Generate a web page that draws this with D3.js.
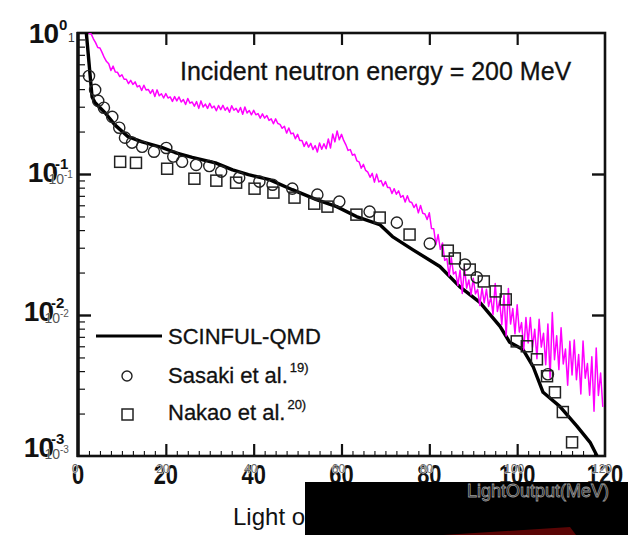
<!DOCTYPE html>
<html>
<head>
<meta charset="utf-8">
<script src="https://cdn.jsdelivr.net/npm/d3@7"></script>
<style>
body { margin: 0; background: #fff; }
svg text { font-family: "Liberation Sans", Arial, Helvetica, sans-serif; }
</style>
</head>
<body>
<div id="chart"></div>
<script>
// --- Data (light output in MeV, response per MeV) ---
const scinfulX = [1.9, 3.2, 3.9, 6.2, 8.4, 11.4, 14.6, 19.2, 22.1, 26.0, 31.3, 35.2, 38.8, 43.6, 48.8, 54.3, 58.9, 63.4, 68.7, 71.6, 76.2, 82.4, 86.9, 91.5, 96.1, 98.3, 101.3, 103.6, 105.9, 109.7, 113.6, 116.6, 118.2];
const scinfulY = [1.0, 0.352, 0.320, 0.271, 0.223, 0.184, 0.169, 0.154, 0.142, 0.131, 0.120, 0.107, 0.0989, 0.0912, 0.0774, 0.0658, 0.0587, 0.0499, 0.0438, 0.036, 0.0291, 0.0221, 0.0159, 0.0123, 0.0083, 0.0064, 0.0057, 0.00433, 0.00283, 0.00225, 0.00163, 0.00125, 0.001];

const sasakiX = [2.5, 3.9, 4.6, 5.9, 7.8, 9.4, 10.7, 12.3, 14.6, 17.3, 20.1, 21.7, 23.7, 26.9, 29.9, 32.6, 36.7, 41.3, 44.3, 48.8, 54.5, 59.5, 66.4, 72.6, 80.1, 88.1, 90.8, 107.0];
const sasakiY = [0.496, 0.395, 0.330, 0.295, 0.254, 0.213, 0.181, 0.167, 0.156, 0.144, 0.153, 0.133, 0.122, 0.116, 0.114, 0.104, 0.0942, 0.0883, 0.0840, 0.0787, 0.0714, 0.0637, 0.0541, 0.0452, 0.0321, 0.0228, 0.0185, 0.0038];

const nakaoX = [9.6, 13.2, 20.3, 26.5, 31.5, 36.0, 40.2, 44.5, 49.3, 53.8, 56.8, 63.4, 68.7, 75.5, 84.2, 85.8, 89.2, 92.4, 95.1, 97.4, 99.9, 102.2, 104.5, 106.8, 108.6, 110.4, 112.5];
const nakaoY = [0.122, 0.120, 0.109, 0.0926, 0.0897, 0.0868, 0.0787, 0.0738, 0.0680, 0.0616, 0.0587, 0.0515, 0.0491, 0.0372, 0.0286, 0.0252, 0.0210, 0.0173, 0.0147, 0.0129, 0.0065, 0.0060, 0.00485, 0.00368, 0.00283, 0.00205, 0.00125];

// measured spectrum (magenta), 1 MeV bins from 3 to 119: upper and lower excursions of the noise
const magStart = 3;
const magHi = [
  0.986, 0.855, 0.783, 0.668, 0.605, 0.582, 0.526, 0.506, 0.470, 0.462,
  0.450, 0.424, 0.426, 0.398, 0.396, 0.395, 0.371, 0.372, 0.352, 0.354,
  0.352, 0.337, 0.343, 0.324, 0.326, 0.330, 0.313, 0.317, 0.303, 0.306,
  0.307, 0.297, 0.305, 0.292, 0.296, 0.299, 0.282, 0.283, 0.268, 0.267,
  0.260, 0.246, 0.246, 0.225, 0.218, 0.212, 0.195, 0.191, 0.173, 0.169,
  0.165, 0.159, 0.166, 0.164, 0.177, 0.192, 0.202, 0.191, 0.161, 0.149,
  0.138, 0.122, 0.117, 0.103, 0.101, 0.0998, 0.0899, 0.0883, 0.0802, 0.0787,
  0.0760, 0.0703, 0.0701, 0.0628, 0.0611, 0.0598, 0.0520, 0.0531, 0.0409, 0.0372,
  0.0324, 0.0251, 0.0255, 0.0203, 0.0208, 0.0217, 0.0177, 0.0182, 0.0152, 0.0156,
  0.0152, 0.0134, 0.0167, 0.0126, 0.0138, 0.0154, 0.0111, 0.0118, 0.00883, 0.00959,
  0.00959, 0.00793, 0.00933, 0.00743, 0.00865, 0.0104, 0.00713, 0.00811, 0.00573, 0.00652,
  0.00664, 0.00524, 0.00653, 0.00453, 0.00505, 0.00583, 0.00388
];
const magLo = [
  0.910, 0.789, 0.726, 0.627, 0.542, 0.528, 0.491, 0.470, 0.437, 0.432,
  0.415, 0.391, 0.394, 0.373, 0.355, 0.359, 0.346, 0.346, 0.327, 0.330,
  0.324, 0.311, 0.318, 0.303, 0.292, 0.299, 0.292, 0.294, 0.281, 0.286,
  0.283, 0.274, 0.283, 0.274, 0.265, 0.271, 0.263, 0.263, 0.249, 0.249,
  0.240, 0.227, 0.228, 0.211, 0.195, 0.193, 0.178, 0.173, 0.157, 0.155,
  0.149, 0.143, 0.150, 0.151, 0.153, 0.169, 0.175, 0.173, 0.147, 0.136,
  0.124, 0.110, 0.106, 0.0948, 0.0875, 0.0879, 0.0822, 0.0802, 0.0728, 0.0719,
  0.0684, 0.0632, 0.0635, 0.0578, 0.0530, 0.0527, 0.0475, 0.0410, 0.0316, 0.0292,
  0.0244, 0.0189, 0.0195, 0.0162, 0.0142, 0.0155, 0.0139, 0.0141, 0.0117, 0.0122,
  0.0115, 0.0101, 0.0106, 0.00855, 0.00711, 0.00863, 0.00735, 0.00757, 0.00568, 0.00634,
  0.00592, 0.00489, 0.00592, 0.00444, 0.00357, 0.00482, 0.00410, 0.00450, 0.00318, 0.00375,
  0.00348, 0.00275, 0.00356, 0.00270, 0.00208, 0.00269, 0.00223
];

// tick labels
const xTickValues = [0, 20, 40, 60, 80, 100, 120];
const yTickValues = [1, 0.1, 0.01, 0.001];
const yTickExp = ["0", "-1", "-2", "-3"];

(function(){
const W = 628, H = 535;
const left = 78, right = 605, top = 33, bottom = 456;

const svg = d3.select("#chart").append("svg")
    .attr("width", W)
    .attr("height", H);

svg.append("rect").attr("width", W).attr("height", H).attr("fill", "#fff");

// --- Scales ---
const x = d3.scaleLinear().domain([0, 120]).range([left, right]);
const y = d3.scaleLog().domain([1e-3, 1]).range([bottom, top]);

svg.append("defs").append("clipPath").attr("id", "plotclip")
    .append("rect")
    .attr("x", left).attr("y", top)
    .attr("width", right - left).attr("height", bottom - top);

// --- Inward ticks ---
const xMajor = xTickValues.filter(v => v > 0 && v < 120);
const xMinor = d3.range(2.5, 120, 2.5).filter(v => v % 20 !== 0);
const yMajor = yTickValues.filter(v => v < 1 && v > 1e-3);
const yMinor = [];
[1e-3, 1e-2, 1e-1].forEach(d => { for (let k = 2; k <= 9; k++) yMinor.push(k * d); });

function tickAxis(axis, at, size, width) {
    svg.append("g")
        .attr("transform", at)
        .call(axis.tickSize(size).tickFormat(""))
        .call(g => g.select(".domain").remove())
        .call(g => g.selectAll("line").attr("stroke", "#111").attr("stroke-width", width));
}
tickAxis(d3.axisBottom(x).tickValues(xMajor), `translate(0,${bottom})`, -12, 2.2);
tickAxis(d3.axisBottom(x).tickValues(xMinor), `translate(0,${bottom})`, -5, 1.1);
tickAxis(d3.axisTop(x).tickValues(xMajor), `translate(0,${top})`, -12, 2.2);
tickAxis(d3.axisLeft(y).tickValues(yMajor), `translate(${left},0)`, -13, 2.4);
tickAxis(d3.axisLeft(y).tickValues(yMinor), `translate(${left},0)`, -7, 1.2);
tickAxis(d3.axisRight(y).tickValues(yMajor), `translate(${right},0)`, -13, 2.4);

// --- Frame ---
svg.append("rect")
    .attr("x", left).attr("y", top)
    .attr("width", right - left).attr("height", bottom - top)
    .attr("fill", "none").attr("stroke", "#111").attr("stroke-width", 2.6);
svg.append("line")
    .attr("x1", left).attr("x2", left).attr("y1", top - 1).attr("y2", bottom + 1)
    .attr("stroke", "#111").attr("stroke-width", 3.4);

const plot = svg.append("g").attr("clip-path", "url(#plotclip)");

// --- SCINFUL-QMD line ---
const scinful = scinfulX.map((v, i) => [v, scinfulY[i]]);
plot.append("path")
    .datum(scinful)
    .attr("fill", "none")
    .attr("stroke", "#000")
    .attr("stroke-width", 3.4)
    .attr("stroke-linejoin", "round")
    .attr("d", d3.line().x(d => x(d[0])).y(d => y(d[1])));

// --- measured spectrum, noisy magenta trace ---
const magPts = [];
magHi.forEach((v, i) => {
    magPts.push([magStart + i, v]);
    magPts.push([magStart + i + 0.5, magLo[i]]);
});
plot.append("path")
    .datum([[2.4, 1.0]].concat(magPts))
    .attr("fill", "none")
    .attr("stroke", "#ff00ff")
    .attr("stroke-width", 1.5)
    .attr("stroke-linejoin", "round")
    .attr("d", d3.line().x(d => x(d[0])).y(d => y(d[1])));

// --- Sasaki circles ---
plot.selectAll(".sasaki")
    .data(sasakiX.map((v, i) => [v, sasakiY[i]]))
    .join("circle")
    .attr("class", "sasaki")
    .attr("cx", d => x(d[0]))
    .attr("cy", d => y(d[1]))
    .attr("r", 5.6)
    .attr("fill", "none")
    .attr("stroke", "#222")
    .attr("stroke-width", 1.4);

// --- Nakao squares ---
const sq = 11;
plot.selectAll(".nakao")
    .data(nakaoX.map((v, i) => [v, nakaoY[i]]))
    .join("rect")
    .attr("class", "nakao")
    .attr("x", d => x(d[0]) - sq / 2)
    .attr("y", d => y(d[1]) - sq / 2)
    .attr("width", sq).attr("height", sq)
    .attr("fill", "none")
    .attr("stroke", "#222")
    .attr("stroke-width", 1.5);

// --- Y tick labels (big bold + faint overprint) ---
const yEnd = [58, 57, 53, 53];
const yOff = [10, 8, 6, 1];
yTickValues.forEach((v, i) => {
    const by = y(v) + yOff[i];
    svg.append("text")
        .attr("x", yEnd[i]).attr("y", by)
        .attr("text-anchor", "end")
        .attr("font-size", 28).attr("font-weight", "bold")
        .attr("letter-spacing", -1)
        .attr("fill", "#111")
        .text("10");
    svg.append("text")
        .attr("x", i === 0 ? yEnd[i] + 1 : yEnd[i] - 2).attr("y", by - 13)
        .attr("font-size", 15).attr("font-weight", "bold")
        .attr("fill", "#111")
        .attr("stroke", "#fff").attr("stroke-width", 1.2).attr("paint-order", "stroke")
        .text(yTickExp[i]);
    if (i === 0) {
        svg.append("text")
            .attr("x", 68).attr("y", by - 1)
            .attr("font-size", 12)
            .attr("fill", "#333")
            .text("1");
    } else {
        svg.append("text")
            .attr("x", yEnd[i] + 7).attr("y", by + 2)
            .attr("text-anchor", "end")
            .attr("font-size", 14)
            .attr("fill", "#555")
            .attr("stroke", "#fff").attr("stroke-width", 0.6).attr("paint-order", "stroke")
            .text("10");
        svg.append("text")
            .attr("x", yEnd[i] + 7).attr("y", by - 4)
            .attr("font-size", 10)
            .attr("fill", "#555")
            .text(yTickExp[i]);
    }
});

// --- X tick labels (narrow big digits + small overprint) ---
xTickValues.forEach(v => {
    svg.append("text")
        .attr("transform", `translate(${x(v)},484) scale(0.78,1)`)
        .attr("text-anchor", "middle")
        .attr("font-size", 28).attr("font-weight", "bold")
        .attr("fill", "#111")
        .text(v);
    svg.append("text")
        .attr("x", x(v) - 3).attr("y", 473)
        .attr("text-anchor", "middle")
        .attr("font-size", 12)
        .attr("fill", "#666")
        .attr("stroke", "#fff").attr("stroke-width", 0.8).attr("paint-order", "stroke")
        .text(v);
});

// --- Title inside plot ---
svg.append("text")
    .attr("x", 180).attr("y", 80)
    .attr("font-size", 25)
    .attr("fill", "#111").attr("stroke", "#111").attr("stroke-width", 0.3)
    .text("Incident neutron energy = 200 MeV");

// --- Legend ---
const lg = svg.append("g");
lg.append("line")
    .attr("x1", 96).attr("x2", 162).attr("y1", 336).attr("y2", 336)
    .attr("stroke", "#000").attr("stroke-width", 3.2);
lg.append("circle")
    .attr("cx", 127).attr("cy", 376).attr("r", 5)
    .attr("fill", "none").attr("stroke", "#222").attr("stroke-width", 1.4);
lg.append("rect")
    .attr("x", 122).attr("y", 409).attr("width", 11).attr("height", 11)
    .attr("fill", "none").attr("stroke", "#222").attr("stroke-width", 1.5);
const legTexts = [["SCINFUL-QMD", "", 344], ["Sasaki et al.", "19)", 383], ["Nakao et al.", "20)", 420]];
legTexts.forEach(t => {
    const tx = lg.append("text")
        .attr("x", 168).attr("y", t[2])
        .attr("font-size", 22)
        .attr("fill", "#111").attr("stroke", "#111").attr("stroke-width", 0.3);
    tx.append("tspan").text(t[0]);
    if (t[1]) {
        tx.append("tspan")
            .attr("dy", -11).attr("dx", 2)
            .attr("font-size", 13)
            .text(t[1]);
    }
});

// --- X axis title, partly covered by the black patch of the scan ---
svg.append("text")
    .attr("x", 233).attr("y", 525)
    .attr("font-size", 24)
    .attr("fill", "#111")
    .text("Light output (MeV)");

svg.append("rect")
    .attr("x", 305).attr("y", 482)
    .attr("width", W - 305).attr("height", H - 482)
    .attr("fill", "#000");
svg.append("polygon")
    .attr("points", "443,535 570,527 576,535")
    .attr("fill", "#5a0505");
svg.append("text")
    .attr("x", 467).attr("y", 497)
    .attr("font-size", 18)
    .attr("fill", "#0a0a0a")
    .attr("stroke", "#9a9a9a").attr("stroke-width", 0.8)
    .text("LightOutput(MeV)");
})();
</script>
</body>
</html>
